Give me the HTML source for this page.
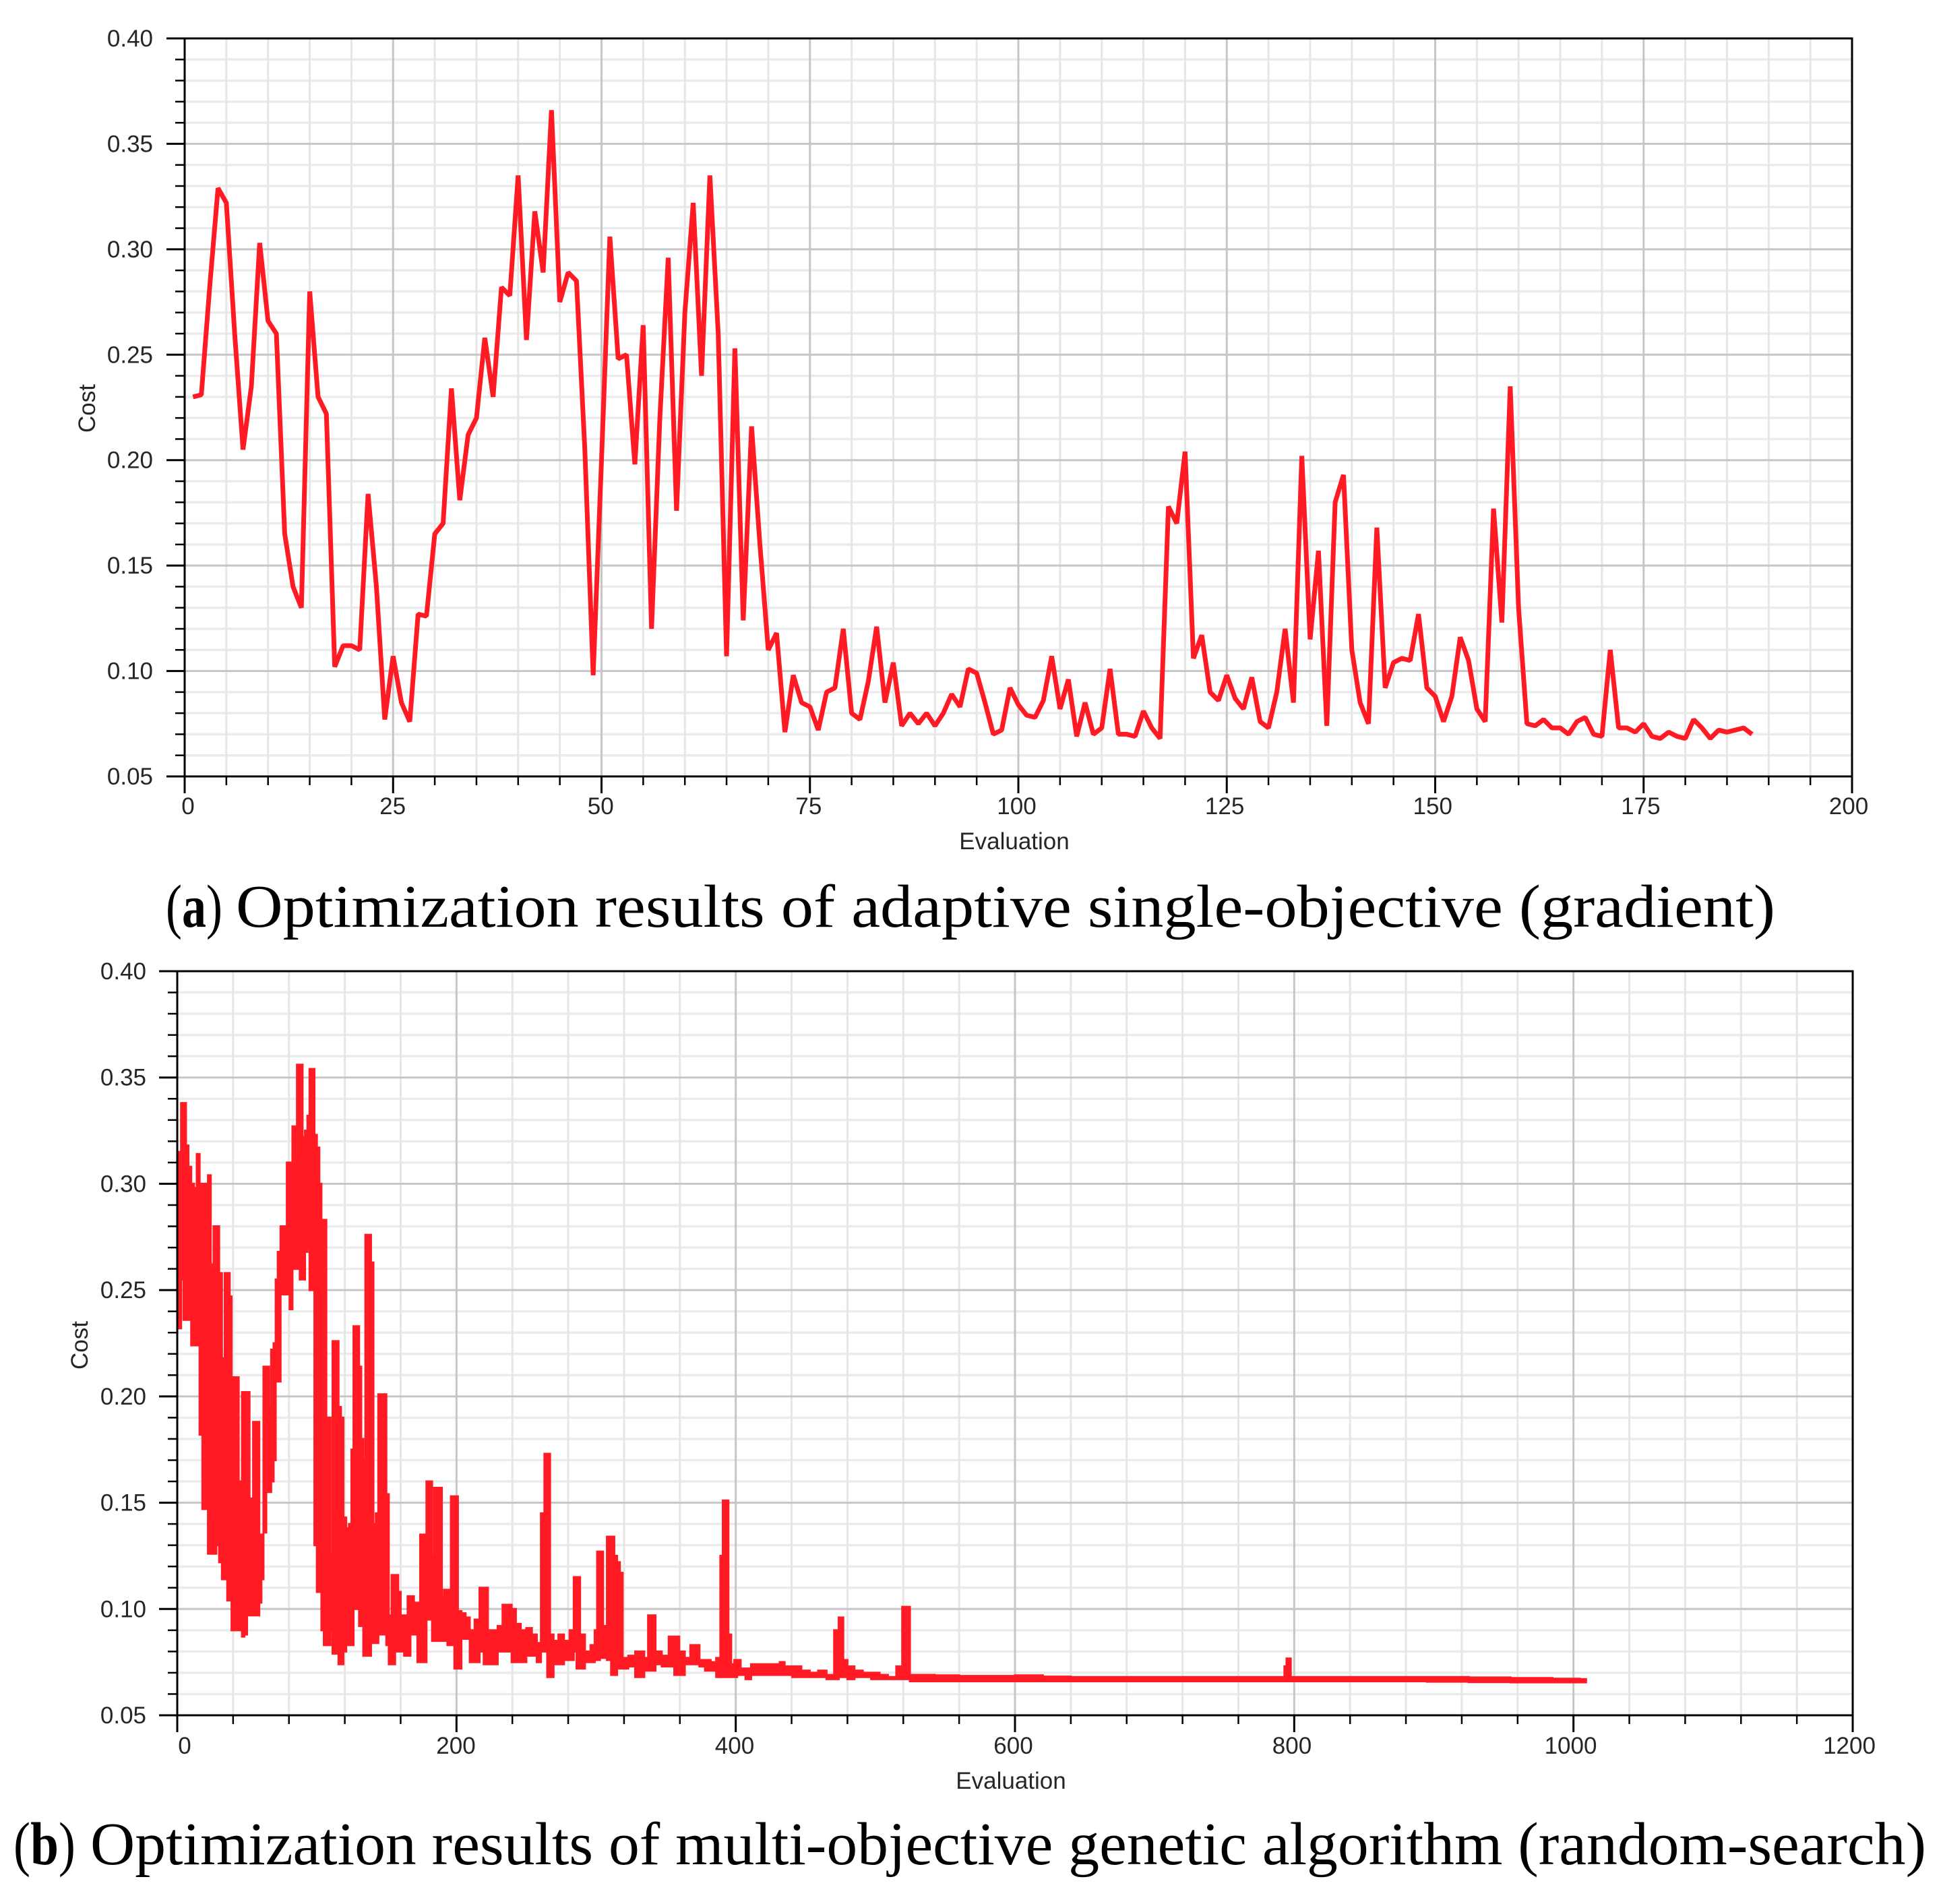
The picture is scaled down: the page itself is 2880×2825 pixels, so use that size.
<!DOCTYPE html>
<html lang="en">
<head>
<meta charset="utf-8">
<title>Optimization results</title>
<style>
html,body{margin:0;padding:0;background:#fff}
svg{display:block}
.tick{font-family:"Liberation Sans",sans-serif;font-size:35px;fill:#262626}
.cap{font-family:"Liberation Serif",serif;font-size:90px;fill:#000}
</style>
</head>
<body>
<svg id="figure" xmlns="http://www.w3.org/2000/svg" width="2880" height="2825" viewBox="0 0 2880 2825">
<rect width="2880" height="2825" fill="#fff"/>
<g id="chartA"></g>
<g id="chartB"></g>
<text class="cap" x="246" y="1375" textLength="84" lengthAdjust="spacingAndGlyphs">(<tspan font-weight="bold">a</tspan>)</text>
<text class="cap" x="350" y="1375" textLength="2284" lengthAdjust="spacingAndGlyphs">Optimization results of adaptive single-objective (gradient)</text>
<text class="cap" x="20" y="2766" textLength="92" lengthAdjust="spacingAndGlyphs">(<tspan font-weight="bold">b</tspan>)</text>
<text class="cap" x="134" y="2766" textLength="2724" lengthAdjust="spacingAndGlyphs">Optimization results of multi-objective genetic algorithm (random-search)</text>
</svg>
<script>
// Shared cost axis
const costTickLabels = ['0.05','0.10','0.15','0.20','0.25','0.30','0.35','0.40'];

// Chart (a): tick labels and cost per evaluation (evaluation 1, 2, 3 ...)
const aEvalTicks = [0,25,50,75,100,125,150,175,200];
const aCost = [
.230,.231,.282,.329,.322,.260,.205,.235,.303,.266,
.260,.165,.140,.130,.280,.230,.222,.102,.112,.112,
.110,.184,.140,.077,.107,.085,.076,.127,.126,
.165,.170,.234,.181,.212,.220,.258,.230,.282,.278,
.335,.257,.318,.289,.366,.275,.289,.285,.205,.098,
.200,.306,.248,.250,.198,.264,.120,.220,.296,.176,
.270,.322,.240,.335,.260,.107,.253,.124,.216,.160,
.110,.118,.071,.098,.085,.083,.072,.090,.092,.120,
.080,.077,.095,.121,.085,.104,.074,.080,.075,.080,
.074,.080,.089,.083,.101,.099,.085,.070,.072,.092,
.084,.079,.078,.086,.107,.082,.096,.069,.085,.070,
.073,.101,.070,.070,.069,.081,.073,.068,.178,.170,
.204,.106,.117,.090,.086,.098,.087,.082,.097,.076,
.073,.090,.120,.085,.202,.115,.157,.074,.180,.193,
.110,.085,.075,.168,.092,.104,.106,.105,.127,.092,
.088,.076,.088,.116,.105,.082,.076,.177,.123,.235,
.130,.075,.074,.077,.073,.073,.070,.076,.078,.070,
.069,.110,.073,.073,.071,.075,.069,.068,.071,.069,
.068,.077,.073,.068,.072,.071,.072,.073,.070
];

// Chart (b): tick labels, and per-interval evaluation / highest cost / lowest cost
const bEvalTicks = [0,200,400,600,800,1000,1200];
const bEval = [0,2,3.5,5.5,7,9,11,13,15,17,19,21,23,25,27,29,31,33,35,36.6,38.5,39.3,41,43,45,45.7,47,49,51,52.5,53.7,55,58,59.5,61,62.5,65,66.5,68,70,71,73,75,78,79,82,83,85,86.5,89,90.5,92.5,94,95.5,97.5,99,101,102.5,104,106,107.5,109,110.5,112,114.5,116.5,118,120,122,124,125.5,127,129.5,131,132.5,134,135.5,138,139.5,141.5,143,145,149,150.5,152.5,154.5,157.5,159,161,164,166,168,171,173,175,178,179,182,183,185,189,190,192,195,197,200,202,205,208,211,215,218,221,224,228,231,235,238,241,244,248,252,256,259,262,264,266,268,271,275,279,283,285,287,290,294,298,300,301.5,304,306,309.5,312,314,316,318,320,326,330,333,336,338.5,341,344,350,354,358,361,366,369,372,376,380,384,388,390,391.5,394,395.5,398,400,402,405,409,413,417,420,425,430,433,437,444,450,456,462,468,473,474.5,476,478,482,488,494,500,506,512,518,520.5,524,525.5,535,550,570,590,610,630,650,670,690,710,730,750,770,792,794,795,797,798,820,850,880,910,940,970,1000,1009];
const bHigh = [.315,.315,.338,.338,.318,.308,.300,.298,.314,.300,.300,.300,.304,.262,.280,.280,.258,.218,.258,.258,.247,.162,.209,.209,.160,.104,.202,.202,.202,.152,.140,.188,.188,.135,.135,.214,.214,.195,.222,.225,.255,.268,.280,.280,.310,.310,.327,.327,.356,.356,.322,.325,.332,.354,.354,.323,.317,.300,.283,.283,.190,.190,.126,.226,.226,.195,.190,.143,.138,.140,.175,.233,.233,.214,.180,.170,.276,.276,.263,.140,.145,.201,.201,.154,.097,.116,.116,.108,.097,.097,.106,.106,.103,.103,.135,.135,.160,.160,.125,.157,.157,.106,.109,.109,.153,.153,.099,.098,.096,.090,.095,.110,.110,.090,.090,.092,.102,.102,.100,.093,.090,.091,.088,.084,.145,.173,.173,.088,.085,.088,.085,.090,.115,.115,.088,.080,.083,.090,.127,.127,.092,.134,.134,.125,.122,.117,.077,.078,.080,.080,.077,.097,.097,.080,.078,.087,.087,.080,.077,.083,.083,.076,.076,.075,.077,.125,.151,.151,.088,.074,.076,.076,.072,.072,.074,.074,.074,.074,.074,.075,.073,.073,.071,.070,.071,.069,.090,.096,.096,.076,.073,.071,.070,.070,.069,.068,.073,.101,.101,.069,.069,.0688,.0685,.0685,.0688,.0682,.068,.068,.068,.068,.068,.068,.068,.068,.073,.0767,.0767,.068,.068,.068,.068,.068,.0678,.0675,.0672,.067,.067];
const bLow = [.232,.232,.255,.236,.236,.236,.224,.224,.224,.182,.147,.147,.126,.126,.126,.130,.122,.114,.114,.104,.104,.090,.090,.090,.090,.090,.087,.088,.097,.097,.097,.097,.097,.103,.114,.136,.155,.155,.160,.170,.207,.207,.248,.248,.248,.241,.260,.260,.260,.255,.255,.268,.270,.250,.250,.130,.108,.108,.090,.083,.083,.083,.090,.079,.079,.074,.074,.080,.083,.083,.083,.100,.100,.092,.092,.078,.078,.078,.084,.084,.084,.088,.088,.083,.074,.074,.080,.080,.080,.078,.078,.088,.088,.075,.075,.075,.095,.095,.085,.085,.085,.085,.085,.083,.083,.072,.072,.086,.086,.075,.075,.080,.074,.074,.074,.080,.080,.080,.075,.075,.075,.078,.078,.075,.080,.080,.068,.068,.074,.074,.076,.076,.080,.072,.072,.075,.075,.076,.076,.077,.077,.076,.069,.069,.072,.072,.072,.073,.068,.068,.071,.071,.071,.074,.073,.073,.069,.069,.074,.074,.074,.073,.071,.071,.068,.068,.068,.068,.068,.068,.068,.069,.069,.067,.069,.069,.069,.069,.069,.069,.069,.068,.068,.068,.068,.067,.067,.068,.068,.068,.067,.068,.068,.067,.067,.067,.067,.067,.067,.066,.066,.066,.066,.066,.066,.066,.066,.066,.066,.066,.066,.066,.066,.066,.066,.066,.066,.066,.066,.066,.066,.0658,.0656,.0655,.0655,.0655];

const SVGNS = 'http://www.w3.org/2000/svg';
function mk(parent, tag, props, text) {
  const el = document.createElementNS(SVGNS, tag);
  for (const k in props) el.setAttribute(k, props[k]);
  if (text !== undefined) el.textContent = text;
  parent.appendChild(el);
  return el;
}

function drawFrame(root, box) {
  const xScale = v => box.left + (v - 0) / box.xMax * (box.right - box.left);
  const yScale = v => box.bottom - (v - 0.05) / 0.35 * (box.bottom - box.top);
  const xStep = box.xMax / (box.xTicks.length - 1) / box.xMinorPerMajor;
  const xMinorCount = (box.xTicks.length - 1) * box.xMinorPerMajor;
  let el;

  // Minor then major grid
  for (let i = 1; i < 35; i++) {
    if (i % 5 === 0) continue;
    const y = yScale(0.05 + i * 0.01);
    el = mk(root, 'line', {x1: box.left, x2: box.right, y1: y, y2: y, stroke: '#ebebeb', 'stroke-width': 3.5});
    
    
    el = mk(root, 'line', {x1: box.left - 14, x2: box.left, y1: y, y2: y, stroke: '#000', 'stroke-width': 2.5});
    
    
  }
  for (let i = 1; i < xMinorCount; i++) {
    if (i % box.xMinorPerMajor === 0) continue;
    const x = xScale(i * xStep);
    el = mk(root, 'line', {x1: x, x2: x, y1: box.top, y2: box.bottom, stroke: '#e6e6e6', 'stroke-width': 3});
    
    
    el = mk(root, 'line', {x1: x, x2: x, y1: box.bottom, y2: box.bottom + 13, stroke: '#000', 'stroke-width': 2.5});
    
    
  }
  costTickLabels.forEach(label => {
    const y = yScale(parseFloat(label));
    if (label !== '0.05' && label !== '0.40') {
      el = mk(root, 'line', {x1: box.left, x2: box.right, y1: y, y2: y, stroke: '#c6c6c6', 'stroke-width': 3});
      
      
    }
    el = mk(root, 'line', {x1: box.left - 27, x2: box.left, y1: y, y2: y, stroke: '#000', 'stroke-width': 3});
    
    
    el = mk(root, 'text', {class: 'tick', x: box.yLabelRight, y: y + 12, 'text-anchor': 'end'}, label);
    
    
  });
  box.xTicks.forEach(v => {
    const x = xScale(v);
    if (v !== 0 && v !== box.xMax) {
      el = mk(root, 'line', {x1: x, x2: x, y1: box.top, y2: box.bottom, stroke: '#c6c6c6', 'stroke-width': 3});
      
      
    }
    el = mk(root, 'line', {x1: x, x2: x, y1: box.bottom, y2: box.bottom + 25, stroke: '#000', 'stroke-width': 3});
    
    
    const shift = (v === 0 ? box.zeroShift : 0) - 5 * v / box.xMax;
    el = mk(root, 'text', {class: 'tick', x: x + shift, y: box.xLabelY, 'text-anchor': 'middle'}, String(v));
    
    
  });

  // Titles
  el = mk(root, 'text', {class: 'tick', x: box.xTitleX, y: box.xTitleY, 'text-anchor': 'middle'}, 'Evaluation');
  
  
  el = mk(root, 'text', {class: 'tick', x: 0, y: 0, 'text-anchor': 'middle', transform: 'translate(' + box.yTitleX + ' ' + box.yTitleY + ') rotate(-90)'}, 'Cost');
  
  

  return {xScale, yScale};
}

function drawBorder(root, box) {
  const el = mk(root, 'path', {d: 'M' + box.left + ' ' + box.bottom + 'V' + box.top + 'H' + box.right + 'V' + box.bottom + 'H' + box.left, fill: 'none', stroke: '#000', 'stroke-width': 3});
  
  
}

const boxA = {left: 274, right: 2748, top: 57, bottom: 1152, xMax: 200, xTicks: aEvalTicks, xMinorPerMajor: 5,
  yLabelRight: 227, xLabelY: 1208, zeroShift: 5, xTitleX: 1505, xTitleY: 1260, yTitleX: 141, yTitleY: 606};
const boxB = {left: 263, right: 2749, top: 1441, bottom: 2545, xMax: 1200, xTicks: bEvalTicks, xMinorPerMajor: 5,
  yLabelRight: 217, xLabelY: 2602, zeroShift: 11, xTitleX: 1500, xTitleY: 2654, yTitleX: 130, yTitleY: 1996};

// Chart (a)
const rootA = document.getElementById('chartA');
const axesA = drawFrame(rootA, boxA);
let dA = '';
aCost.forEach((c, i) => {
  dA += (i ? 'L' : 'M') + axesA.xScale(i + 1).toFixed(2) + ' ' + axesA.yScale(c).toFixed(2);
});
const lineA = mk(rootA, 'path', {d: dA, fill: 'none', stroke: '#ff1a24', 'stroke-width': 7, 'stroke-linejoin': 'bevel'});


drawBorder(rootA, boxA);

// Chart (b): solid stepped band between each interval's high and low cost
const rootB = document.getElementById('chartB');
const axesB = drawFrame(rootB, boxB);
const lastB = bEval.length - 1;
const edgeLeft = i => i === 0 ? bEval[0] : (bEval[i - 1] + bEval[i]) / 2;
const edgeRight = i => i === lastB ? bEval[lastB] : (bEval[i] + bEval[i + 1]) / 2;
let dB = '';
bEval.forEach((e, i) => {
  const y = axesB.yScale(bHigh[i]).toFixed(2);
  dB += (i ? 'L' : 'M') + axesB.xScale(edgeLeft(i)).toFixed(2) + ' ' + y + 'L' + axesB.xScale(edgeRight(i)).toFixed(2) + ' ' + y;
});
for (let i = lastB; i >= 0; i--) {
  const y = axesB.yScale(bLow[i]).toFixed(2);
  dB += 'L' + axesB.xScale(edgeRight(i)).toFixed(2) + ' ' + y + 'L' + axesB.xScale(edgeLeft(i)).toFixed(2) + ' ' + y;
}
dB += 'Z';
const lineB = mk(rootB, 'path', {d: dB, fill: '#ff1a24', stroke: '#ff1a24', 'stroke-width': 3, 'stroke-linejoin': 'miter'});


drawBorder(rootB, boxB);
</script>
</body>
</html>
